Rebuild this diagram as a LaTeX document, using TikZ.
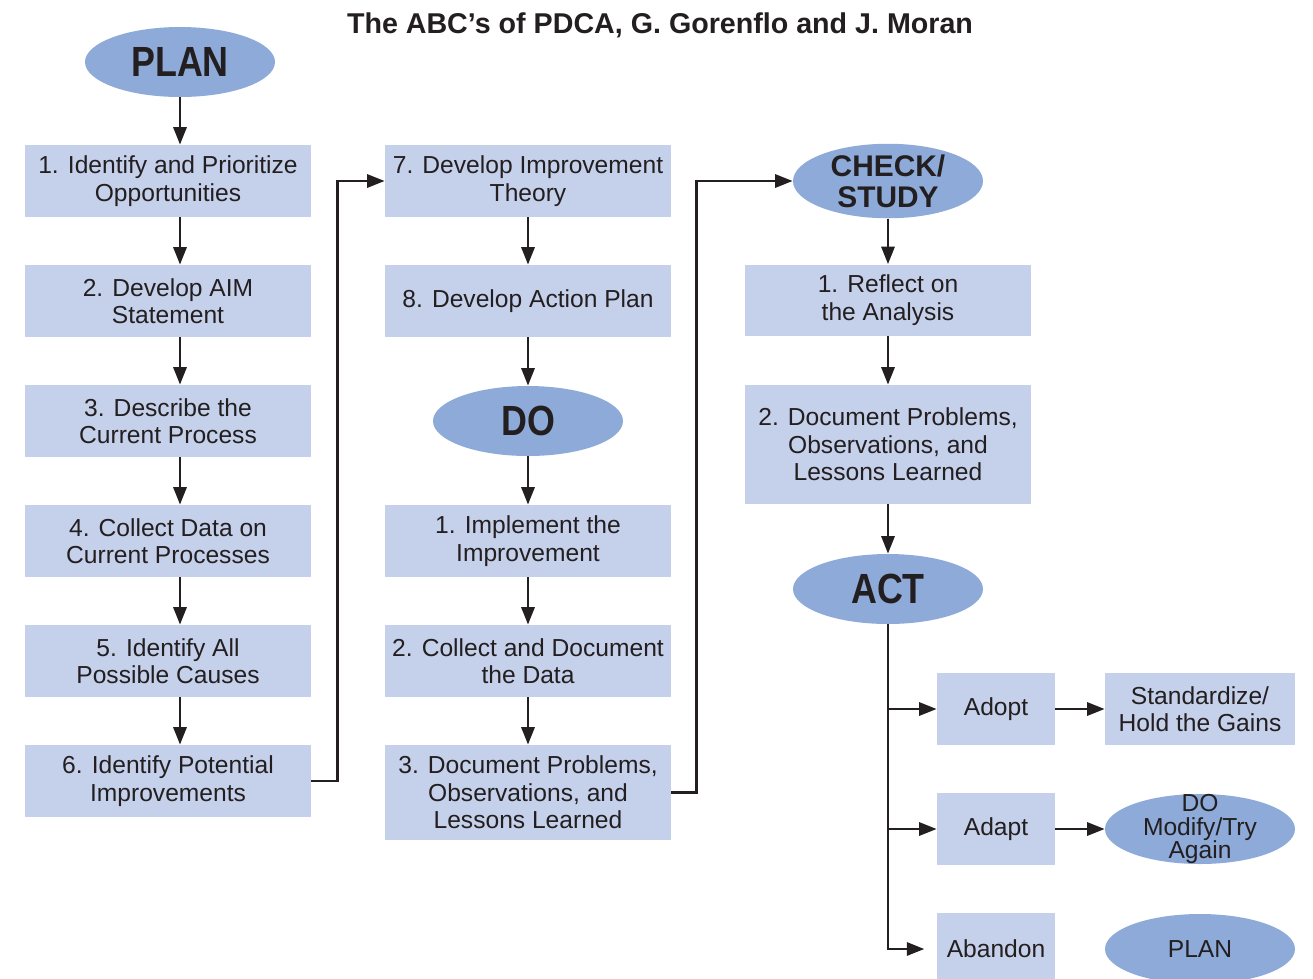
\documentclass[tikz,border=0pt]{standalone}
\usepackage{fontspec}
\setmainfont{Liberation Sans}
\newfontfamily\condfont[FakeStretch=0.85]{Liberation Sans}
\usetikzlibrary{arrows.meta,shapes.geometric,positioning}
\definecolor{boxblue}{HTML}{C5D0EA}
\definecolor{ovalblue}{HTML}{8EAAD8}
\definecolor{ink}{HTML}{231F20}

\begin{document}
\begin{tikzpicture}[
  text=ink,
  stepbox/.style={fill=boxblue, minimum width=5.72cm, minimum height=1.44cm,
    inner sep=0pt, align=center, font=\fontsize{14}{15.6}\selectfont},
  smallbox/.style={stepbox, minimum width=2.36cm},
  phase/.style={ellipse, fill=ovalblue, minimum width=3.8cm, minimum height=1.4cm,
    inner sep=0pt, align=center, font=\condfont\bfseries\fontsize{24}{24}\selectfont},
  endoval/.style={phase, font=\fontsize{14}{13.6}\selectfont},
  arr/.style={draw=ink, line width=1.5pt, -{Triangle[length=10pt,width=7.5pt]}}
]
\useasboundingbox (0,0) rectangle (26.26,-19.56);
\begin{scope}
\clip (0,0) rectangle (26.26,-19.56);
\node (title) at (13.2,-0.5) {\bfseries\fontsize{16.3}{16}\selectfont The ABC's of PDCA, G. Gorenflo and J. Moran};

% plan column
\node[phase] (plan) at (3.6,-1.24) {PLAN};
\node[stepbox] (p1) at (3.36,-3.62) {1. Identify and Prioritize\\Opportunities};
\node[stepbox] (p2) at (3.36,-6.02) {2. Develop AIM\\Statement};
\node[stepbox] (p3) at (3.36,-8.42) {3. Describe the\\Current Process};
\node[stepbox] (p4) at (3.36,-10.82) {4. Collect Data on\\Current Processes};
\node[stepbox] (p5) at (3.36,-13.22) {5. Identify All\\Possible Causes};
\node[stepbox] (p6) at (3.36,-15.62) {6. Identify Potential\\Improvements};

% do column
\node[stepbox] (p7) at (10.56,-3.62) {7. Develop Improvement\\Theory};
\node[stepbox] (p8) at (10.56,-6.02) {8. Develop Action Plan};
\node[phase] (do) at (10.56,-8.42) {DO};
\node[stepbox] (d1) at (10.56,-10.82) {1. Implement the\\Improvement};
\node[stepbox] (d2) at (10.56,-13.22) {2. Collect and Document\\the Data};
\node[stepbox, minimum height=1.9cm] (d3) at (10.56,-15.85) {3. Document Problems,\\Observations, and\\Lessons Learned};

% check and act column
\node[phase, font=\bfseries\fontsize{17}{17.5}\selectfont] (check) at (17.76,-3.62) {CHECK/\\STUDY};
\node[stepbox, minimum height=1.42cm] (c1) at (17.76,-6.0) {1. Reflect on\\the Analysis};
\node[stepbox, minimum height=2.38cm] (c2) at (17.76,-8.89) {2. Document Problems,\\Observations, and\\Lessons Learned};
\node[phase] (act) at (17.76,-11.78) {ACT};
\node[smallbox] (adopt) at (19.92,-14.18) {Adopt};
\node[smallbox] (adapt) at (19.92,-16.58) {Adapt};
\node[smallbox] (abandon) at (19.92,-18.98) {Abandon};
\node[stepbox, minimum width=3.8cm] (std) at (24,-14.18) {Standardize/\\Hold the Gains};
\node[endoval, label={[align=center, text=ink, font=\fontsize{14}{13.6}\selectfont]center:DO\\Modify/Try\\Again}] (retry) at (24,-16.58) {};
\node[endoval] (replan) at (24,-18.98) {PLAN};

% arrows
\draw[arr] (plan) -- (p1.north -| plan);
\foreach \a/\b in {p1/p2,p2/p3,p3/p4,p4/p5,p5/p6}
  \draw[arr] (\a.south -| plan) -- (\b.north -| plan);
\draw[arr] (p6.east) -- ++(0.52,0) |- (p7.west);
\foreach \a/\b in {p7/p8,p8/do,do/d1,d1/d2,d2/d3}
  \draw[arr] (\a) -- (\b);
\draw[arr] (d3.east) -- ++(0.5,0) |- (check.west);
\foreach \a/\b in {check/c1,c1/c2,c2/act}
  \draw[arr] (\a) -- (\b);
\draw[arr, shorten >=7pt] (act.south) |- (abandon.west);
\draw[arr] (act.south |- adopt.west) -- (adopt.west);
\draw[arr] (act.south |- adapt.west) -- (adapt.west);
\draw[arr] (adopt) -- (std);
\draw[arr] (adapt) -- (retry);
\end{scope}
\end{tikzpicture}
\end{document}
